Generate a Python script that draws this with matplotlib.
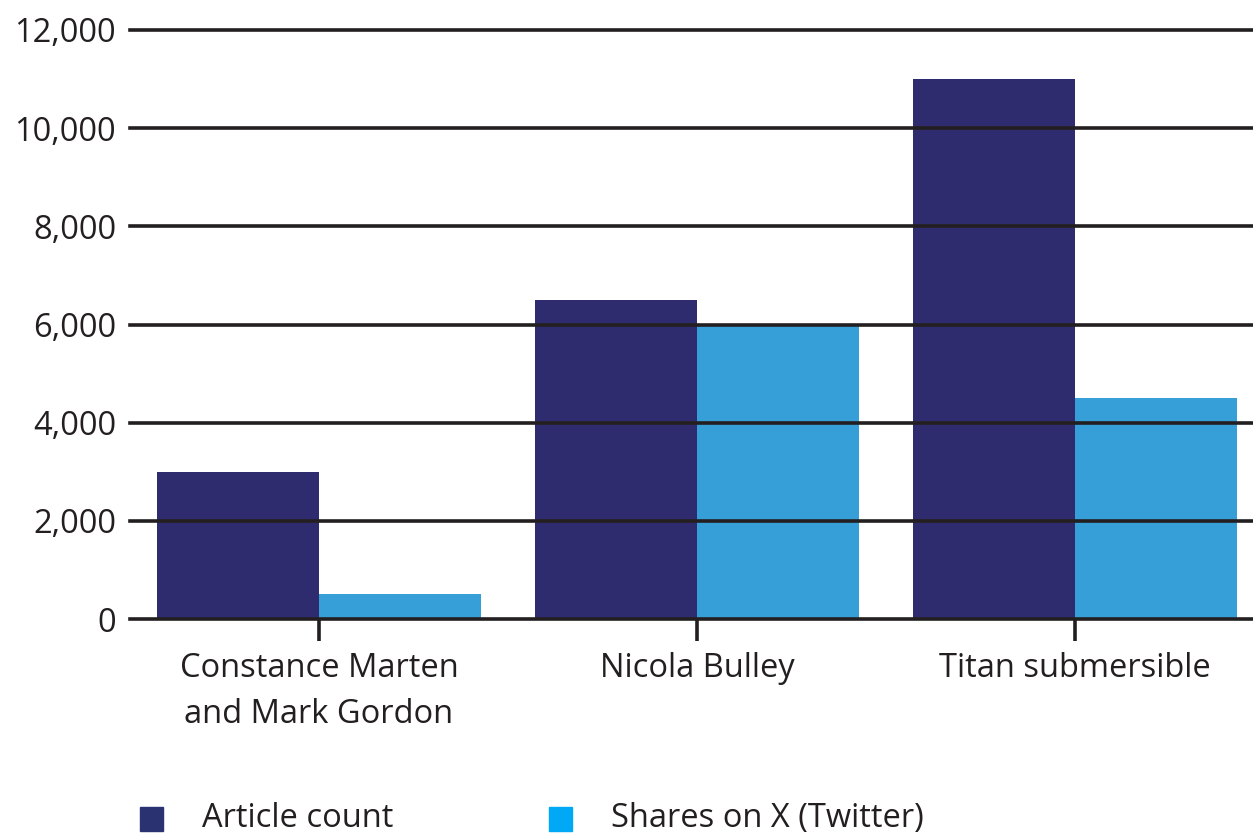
import numpy as np
import matplotlib.pyplot as plt
from matplotlib.patches import Rectangle
from matplotlib.ticker import FuncFormatter

categories = ["Constance Marten\nand Mark Gordon", "Nicola Bulley", "Titan submersible"]
article_count = [3000, 6500, 11000]
shares_on_x = [500, 6000, 4500]
series_labels = ["Article count", "Shares on X (Twitter)"]
y_ticks = [0, 2000, 4000, 6000, 8000, 10000, 12000]

NAVY = "#2e2c6e"
BLUE = "#369fd8"
TEXT = "#231f20"

plt.rcParams["font.family"] = ["Open Sans", "DejaVu Sans"]

W, H = 1253, 835
fig = plt.figure(figsize=(W / 100, H / 100), dpi=100)
ax = fig.add_axes([130 / W, 216 / H, 1 - 130 / W, 589 / H])

x = np.arange(len(categories))
w = 162 / 378
ax.bar(x - w / 2, article_count, width=w, color=NAVY, zorder=1)
ax.bar(x + w / 2, shares_on_x, width=w, color=BLUE, zorder=1)

# horizontal rules sit on top of the bars
for t in y_ticks:
    ax.axhline(t, color=TEXT, lw=2.6, zorder=3, clip_on=False)

ax.set_xlim(-0.5, 2.0 + 178 / 378)
ax.set_ylim(0, 12000)
ax.set_yticks(y_ticks)
ax.yaxis.set_major_formatter(FuncFormatter(lambda v, p: f"{int(v):,}"))
ax.tick_params(axis="y", length=0, pad=10, labelsize=23.5, labelcolor=TEXT)
ax.set_xticks(x)
ax.set_xticklabels(categories, fontsize=23.5, color=TEXT, linespacing=1.5)
ax.tick_params(axis="x", length=16, width=2.6, color=TEXT, pad=8)
for s in ax.spines.values():
    s.set_visible(False)

# legend along the bottom edge
legend_colors = ["#2b3272", "#00a8f5"]
legend_x = [140, 549]
for label, color, lx in zip(series_labels, legend_colors, legend_x):
    fig.add_artist(Rectangle((lx / W, 4 / H), 23 / W, 24 / H,
                             transform=fig.transFigure, color=color))
    fig.text((lx + 62) / W, 8 / H, label, fontsize=23.5, color=TEXT,
             ha="left", va="baseline")

fig.savefig("out.png", dpi=100)
